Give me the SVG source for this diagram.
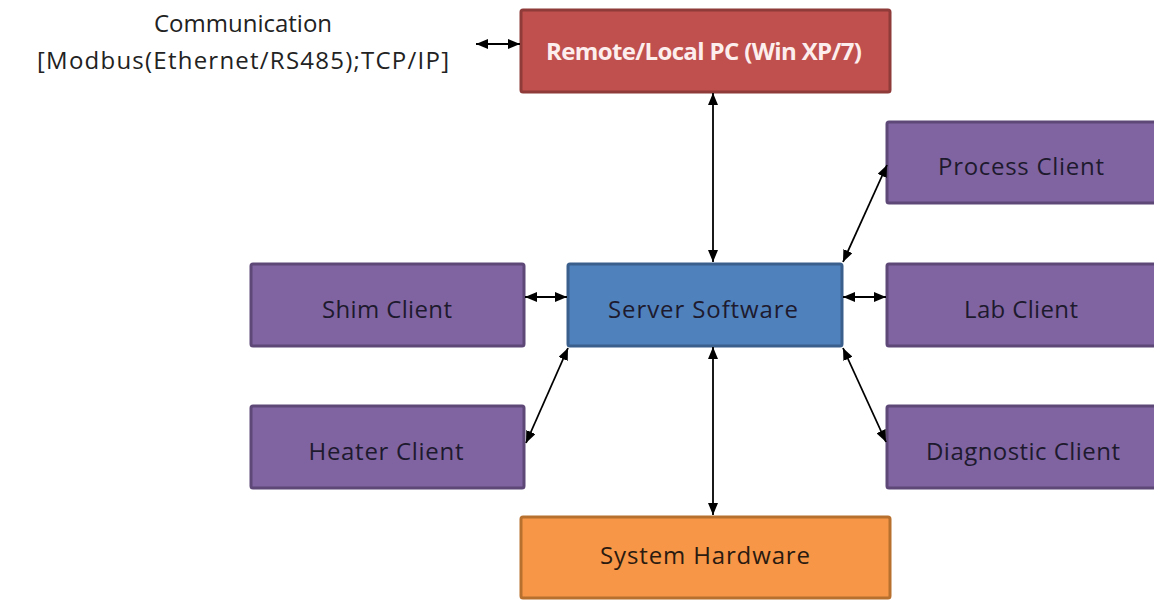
<svg xmlns="http://www.w3.org/2000/svg" width="1154" height="603" viewBox="0 0 1154 603">
<style>
.box{stroke-width:3}
.red{fill:#c0504d;stroke:#8e3b39}
.blue{fill:#4f81bd;stroke:#3a5f8c}
.purple{fill:#8064a2;stroke:#5d4878}
.orange{fill:#f79646;stroke:#b8702f}
.t{font-family:"Open Sans","Liberation Sans",sans-serif;font-size:24px;text-anchor:middle;dominant-baseline:central}
.dark{fill:#1e1a2e}
.conn line{stroke:#000;stroke-width:1.8;marker-start:url(#ah);marker-end:url(#ah)}
</style>
<defs>
<marker id="ah" viewBox="0 0 12 10" refX="12" refY="5" markerWidth="12" markerHeight="10" markerUnits="userSpaceOnUse" orient="auto-start-reverse">
<path d="M0,0 L12,5 L0,10 Z" fill="#000"/>
</marker>
</defs>
<rect width="1154" height="603" fill="#fff"/>
<g id="comm">
<text class="t" x="243" y="22" fill="#222" font-size="23">Communication</text>
<text class="t" x="243" y="59" fill="#222" font-size="23" textLength="412">[Modbus(Ethernet/RS485);TCP/IP]</text>
</g>
<g id="remote-pc">
<rect class="box red" x="521" y="10" width="369" height="82" rx="2"/>
<text class="t" x="704" y="50" fill="#fdeeee" font-weight="bold" font-size="21" textLength="316">Remote/Local PC (Win XP/7)</text>
</g>
<g id="server">
<rect class="box blue" x="568" y="264" width="274" height="82" rx="2"/>
<text class="t dark" x="703" y="308" fill="#1c2c48" textLength="190">Server Software</text>
</g>
<g id="shim">
<rect class="box purple" x="251" y="264" width="273" height="82" rx="2"/>
<text class="t dark" x="387" y="308" textLength="130">Shim Client</text>
</g>
<g id="heater">
<rect class="box purple" x="251" y="406" width="273" height="82" rx="2"/>
<text class="t dark" x="386" y="450" textLength="155">Heater Client</text>
</g>
<g id="process">
<rect class="box purple" x="887" y="122" width="300" height="81" rx="2"/>
<text class="t dark" x="1021" y="165" textLength="166">Process Client</text>
</g>
<g id="lab">
<rect class="box purple" x="887" y="264" width="300" height="82" rx="2"/>
<text class="t dark" x="1021" y="308" textLength="114">Lab Client</text>
</g>
<g id="diagnostic">
<rect class="box purple" x="887" y="406" width="300" height="82" rx="2"/>
<text class="t dark" x="1023" y="450" textLength="194">Diagnostic Client</text>
</g>
<g id="hardware">
<rect class="box orange" x="521" y="517" width="369" height="81" rx="2"/>
<text class="t" x="705" y="554" fill="#2a1a10" textLength="210">System Hardware</text>
</g>
<g id="connectors" class="conn">
<line x1="476" y1="44" x2="520" y2="44"/>
<line x1="713" y1="93" x2="713" y2="262"/>
<line x1="525" y1="297" x2="567" y2="297"/>
<line x1="843" y1="297" x2="886" y2="297"/>
<line x1="568" y1="348" x2="526" y2="443"/>
<line x1="843" y1="262" x2="887" y2="165"/>
<line x1="843" y1="348" x2="886" y2="442"/>
<line x1="713" y1="347" x2="713" y2="515"/>
</g>
</svg>
